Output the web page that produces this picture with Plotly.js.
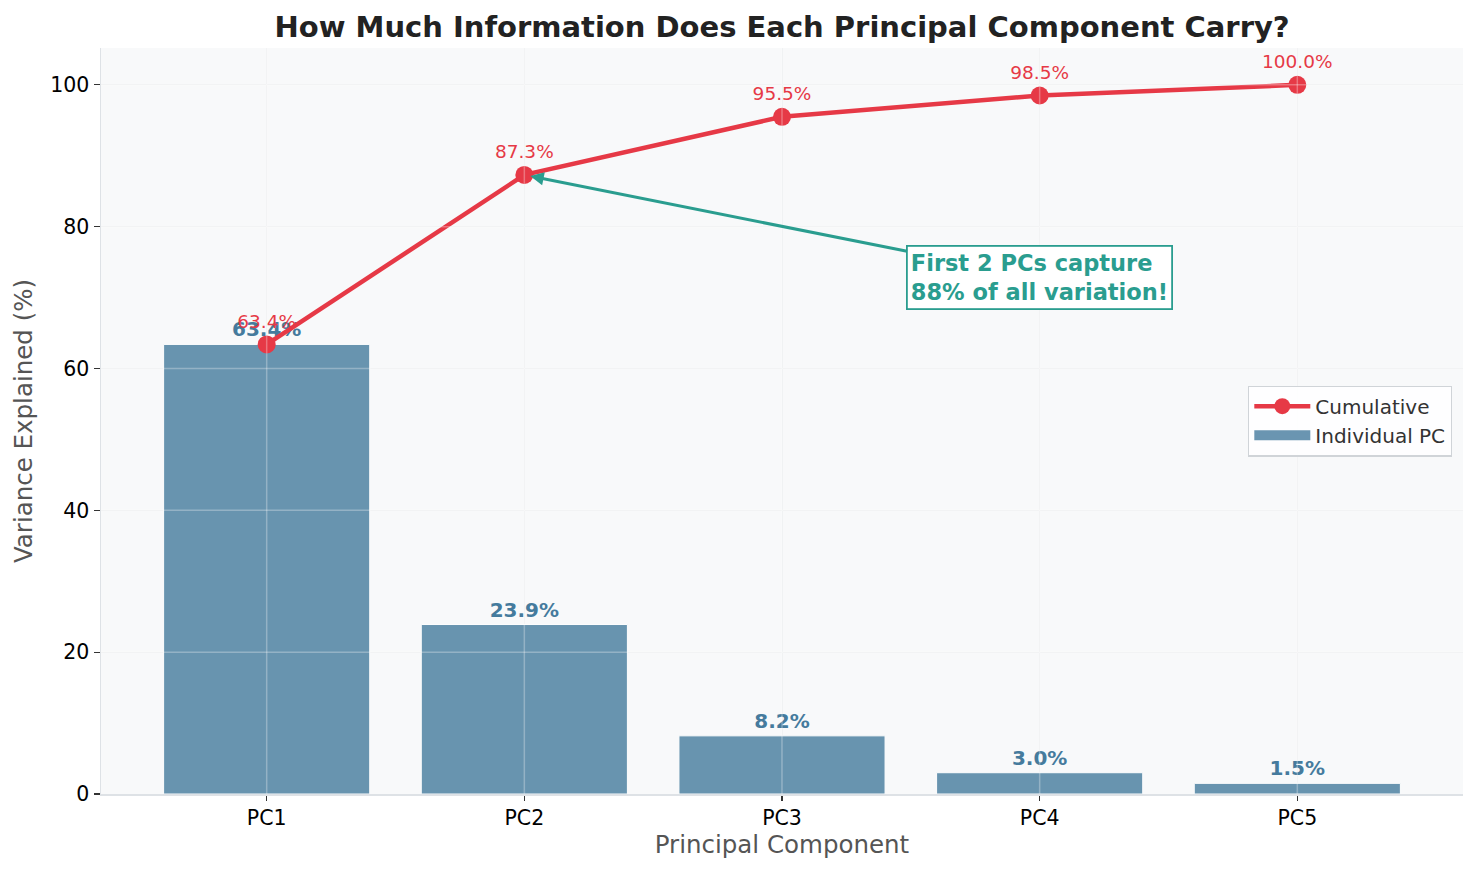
<!DOCTYPE html>
<html>
<head>
<meta charset="utf-8">
<script src="https://cdn.plot.ly/plotly-3.0.1.min.js"></script>
<style>
  html, body { margin: 0; padding: 0; background: #ffffff; }
  #chart { width: 1477px; height: 876px; }
</style>
</head>
<body>
<div id="chart"></div>
<script>
// values
const components = ['PC1', 'PC2', 'PC3', 'PC4', 'PC5'];
const individual = [63.4, 23.9, 8.2, 3.0, 1.5];
const cumulative = [63.4, 87.3, 95.5, 98.5, 100.0];
const yTicks = [0, 20, 40, 60, 80, 100];

const blue = '#457b9d';
const red = '#e63946';
const green = '#2a9d8f';

const barTrace = {
    x: components,
    y: individual,
    type: 'bar',
    name: 'Individual PC',
    width: 0.8,
    marker: { color: blue, opacity: 0.8, line: { color: '#ffffff', width: 1 } },
    text: individual.map(v => v.toFixed(1) + '%'),
    textposition: 'outside',
    textfont: { family: 'DejaVu Sans', size: 20, color: blue, weight: 'bold' },
    cliponaxis: false,
    showlegend: false
};

const cumTrace = {
    x: components,
    y: cumulative,
    type: 'scatter',
    mode: 'lines+markers+text',
    name: 'Cumulative',
    line: { color: red, width: 4.5 },
    marker: { color: red, size: 18 },
    text: cumulative.map(v => v.toFixed(1) + '%'),
    textposition: 'top center',
    textfont: { family: 'DejaVu Sans', size: 18.5, color: red },
    cliponaxis: false,
    legendrank: 1
};

// legend entry for the bars (rectangle patch like the reference)
const barLegend = {
    x: [null], y: [null],
    type: 'scatter',
    mode: 'lines',
    name: 'Individual PC',
    line: { color: 'rgba(69,123,157,0.8)', width: 14 },
    legendrank: 2,
    hoverinfo: 'skip'
};

// grid lines that show through the translucent bars
const gridShapes = [];
components.forEach(c => gridShapes.push({
    type: 'line', xref: 'x', yref: 'paper', x0: c, x1: c, y0: 0, y1: 1,
    line: { color: 'rgba(255,255,255,0.3)', width: 1.5 }, layer: 'above'
}));
yTicks.slice(1).forEach(t => gridShapes.push({
    type: 'line', xref: 'paper', yref: 'y', x0: 0, x1: 1, y0: t, y1: t,
    line: { color: 'rgba(255,255,255,0.3)', width: 1.5 }, layer: 'above'
}));

const layout = {
    width: 1477,
    height: 876,
    margin: { l: 101, r: 14, t: 48, b: 82 },
    paper_bgcolor: '#ffffff',
    plot_bgcolor: '#f8f9fa',
    font: { family: 'DejaVu Sans', size: 19, color: '#000000' },
    title: {
        text: 'How Much Information Does Each Principal Component Carry?',
        font: { family: 'DejaVu Sans', size: 29, color: '#222222', weight: 'bold' },
        x: 0.5295, xanchor: 'center', xref: 'container',
        y: 0.969, yanchor: 'middle', yref: 'container'
    },
    xaxis: {
        range: [-0.643, 4.643],
        title: { text: 'Principal Component', font: { size: 24.5, color: '#555555' }, standoff: 6 },
        tickfont: { size: 20.5, color: '#000000' },
        showgrid: true, gridcolor: '#eceef0', gridwidth: 1,
        showline: true, linecolor: '#dee2e6', linewidth: 1.5,
        ticks: 'outside', ticklen: 5, tickcolor: '#333333', tickwidth: 1.2,
        zeroline: false
    },
    yaxis: {
        range: [0, 105.2],
        tickvals: yTicks,
        title: { text: 'Variance Explained (%)', font: { size: 24.5, color: '#555555' }, standoff: 10 },
        tickfont: { size: 20.5, color: '#000000' },
        showgrid: true, gridcolor: '#eceef0', gridwidth: 1,
        showline: true, linecolor: '#dee2e6', linewidth: 1.5,
        ticks: 'outside', ticklen: 6, tickcolor: '#333333', tickwidth: 1.2,
        zeroline: false
    },
    legend: {
        x: 0.992, xanchor: 'right',
        y: 0.5, yanchor: 'middle',
        bgcolor: 'rgba(255,255,255,0.85)',
        bordercolor: '#d0d4d8', borderwidth: 1.2,
        itemwidth: 56,
        font: { size: 20, color: '#333333' }
    },
    showlegend: true,
    shapes: gridShapes,
    annotations: [{
        x: 'PC2', y: 87.3,
        xref: 'x', yref: 'y',
        ax: 3.0, ay: 72.8,
        axref: 'x', ayref: 'y',
        text: '<b>First 2 PCs capture<br>88% of all variation!</b>',
        align: 'left',
        font: { family: 'DejaVu Sans', size: 22.5, color: green },
        showarrow: true,
        arrowhead: 2, arrowsize: 0.9, arrowwidth: 3, arrowcolor: green,
        standoff: 6,
        bgcolor: '#ffffff',
        bordercolor: green, borderwidth: 1.8, borderpad: 3
    }]
};

Plotly.newPlot('chart', [barTrace, cumTrace, barLegend], layout, { displayModeBar: false, staticPlot: true });
</script>
</body>
</html>
